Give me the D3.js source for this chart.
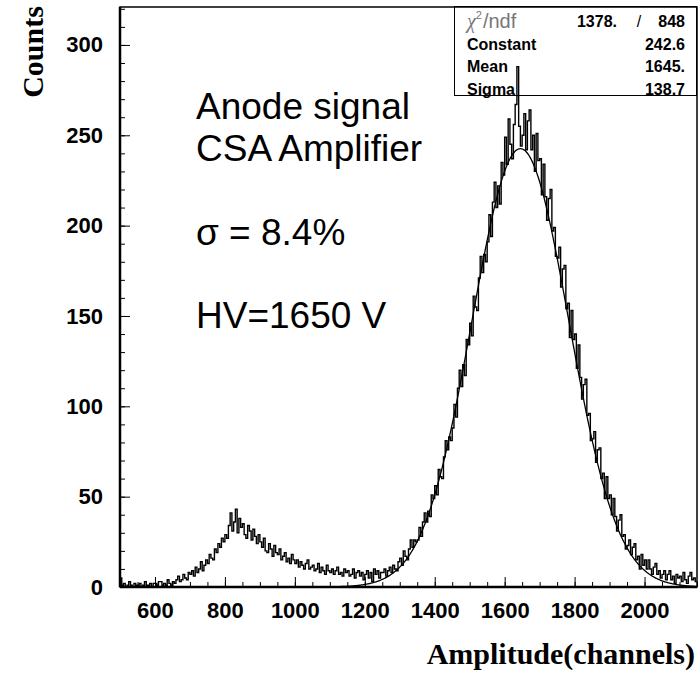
<!DOCTYPE html>
<html>
<head>
<meta charset="utf-8">
<script src="https://cdn.jsdelivr.net/npm/d3@7"></script>
<style>
  body { margin: 0; background: #fff; }
  svg { display: block; }
</style>
</head>
<body>
<svg id="chart" width="698" height="674"></svg>
<script>
// histogram: 5-channel bins starting at channel 500
const binStart = 500;
const binWidth = 5;
const counts = [
  5, 1, 2, 0, 1, 3, 1, 0, 2, 1,
  1, 2, 0, 1, 3, 1, 1, 2, 0, 2,
  2, 1, 3, 3, 1, 2, 1, 4, 2, 1,
  3, 2, 4, 6, 3, 4, 7, 5, 4, 8,
  7, 9, 6, 11, 8, 10, 14, 9, 12, 15,
  13, 18, 16, 15, 21, 19, 24, 22, 27, 25,
  29, 27, 34, 41, 31, 36, 43, 30, 38, 33,
  35, 29, 27, 34, 31, 26, 32, 28, 24, 29,
  25, 22, 27, 20, 19, 24, 21, 17, 23, 19,
  18, 21, 15, 17, 19, 14, 16, 13, 18, 15,
  13, 15, 11, 14, 12, 10, 13, 15, 10, 11,
  12, 9, 10, 13, 8, 11, 9, 7, 12, 9,
  8, 10, 7, 9, 11, 7, 8, 6, 10, 8,
  9, 6, 7, 10, 5, 8, 9, 6, 8, 4,
  7, 9, 5, 8, 3, 10, 7, 9, 5, 8,
  8, 10, 6, 9, 11, 8, 12, 10, 9, 14,
  16, 12, 20, 17, 15, 21, 26, 22, 26, 25,
  26, 33, 28, 36, 41, 36, 42, 39, 51, 49,
  56, 51, 65, 61, 60, 72, 81, 76, 83, 81,
  88, 101, 94, 110, 120, 111, 123, 117, 137, 134,
  146, 139, 161, 155, 153, 171, 183, 174, 184, 180,
  191, 206, 194, 213, 224, 210, 222, 212, 235, 228,
  249, 234, 259, 245, 237, 256, 267, 288, 255, 244,
  250, 262, 242, 258, 264, 242, 250, 230, 251, 236,
  237, 217, 234, 216, 203, 215, 220, 197, 199, 183,
  182, 188, 166, 176, 178, 154, 157, 138, 153, 137,
  140, 121, 134, 116, 104, 112, 115, 95, 96, 81,
  82, 86, 69, 76, 77, 60, 63, 49, 61, 49,
  51, 40, 49, 39, 31, 37, 40, 28, 29, 21,
  23, 26, 18, 22, 24, 15, 17, 10, 18, 12,
  15, 10, 15, 10, 7, 11, 13, 7, 9, 5,
  7, 9, 4, 7, 9, 4, 6, 2, 7, 5,
  6, 3, 8, 4, 2, 6, 8, 4, 5, 3
];

const xTicks = [600, 800, 1000, 1200, 1400, 1600, 1800, 2000];
const yTicks = [0, 50, 100, 150, 200, 250, 300];

// gaussian fit shown in the stats box
const fitConstant = 242.6;
const fitMean = 1645;
const fitSigma = 138.7;

const statNames = ["Constant", "Mean", "Sigma"];
const statValues = ["242.6", "1645.", "138.7"];
const chi2Value = "1378.";
const ndfValue = "848";

const noteLines = [
  { text: "Anode signal", y: 119 },
  { text: "CSA Amplifier", y: 161 },
  { text: "\u03c3 = 8.4%", y: 245 },
  { text: "HV=1650 V", y: 328 }
];

const svg = d3.select("#chart");
const plotLeft = 120, plotRight = 697, plotTop = 7, plotBottom = 587;

const x = d3.scaleLinear().domain([500, 2150]).range([plotLeft, plotRight]);
const y = d3.scaleLinear().domain([0, 321]).range([plotBottom, plotTop]);

// stats box (drawn first so the histogram runs over it)
const box = svg.append("g");
box.append("rect")
  .attr("x", 454.5)
  .attr("y", 6.5)
  .attr("width", 242)
  .attr("height", 89)
  .attr("fill", "none")
  .attr("stroke", "#000")
  .attr("stroke-width", 1);

const chiText = box.append("text")
  .attr("x", 467)
  .attr("y", 28)
  .attr("font-family", "Liberation Sans, Arial, sans-serif")
  .attr("font-size", 20)
  .attr("fill", "#777");
chiText.append("tspan").attr("font-style", "italic").attr("font-family", "Liberation Serif, serif").text("\u03c7");
chiText.append("tspan").attr("font-size", 11).attr("dy", -9).text("2");
chiText.append("tspan").attr("dy", 9).attr("dx", 1).text("/ndf");

const boldStyle = sel => sel
  .attr("font-family", "Liberation Sans, Arial, sans-serif")
  .attr("font-weight", "bold")
  .attr("font-size", 16)
  .attr("fill", "#000");

box.append("text").attr("x", 617).attr("y", 27).attr("text-anchor", "end").call(boldStyle).text(chi2Value);
box.append("text").attr("x", 639).attr("y", 27).attr("text-anchor", "middle").call(boldStyle).attr("font-weight", "normal").text("/");
box.append("text").attr("x", 685).attr("y", 27).attr("text-anchor", "end").call(boldStyle).text(ndfValue);

statNames.forEach((name, i) => {
  const by = 49.5 + i * 22.5;
  box.append("text").attr("x", 467).attr("y", by).call(boldStyle).text(name);
  box.append("text").attr("x", 685).attr("y", by).attr("text-anchor", "end").call(boldStyle).text(statValues[i]);
});

// histogram outline
const bins = counts.map((c, i) => ({ lo: binStart + i * binWidth, v: c }));
bins.push({ lo: binStart + counts.length * binWidth, v: counts[counts.length - 1] });

const histLine = d3.line()
  .x(d => x(d.lo))
  .y(d => y(d.v))
  .curve(d3.curveStepAfter);

svg.append("path")
  .datum(bins)
  .attr("fill", "none")
  .attr("stroke", "#000")
  .attr("stroke-width", 1.4)
  .attr("d", histLine);

// fit curve
const fitPts = d3.range(500, 2151, 2).map(c => ({
  c: c,
  v: fitConstant * Math.exp(-0.5 * Math.pow((c - fitMean) / fitSigma, 2))
}));

svg.append("path")
  .datum(fitPts)
  .attr("fill", "none")
  .attr("stroke", "#000")
  .attr("stroke-width", 1.3)
  .attr("d", d3.line().x(d => x(d.c)).y(d => y(d.v)).curve(d3.curveBasis));

// axes, ticks pointing inwards like ROOT
const tickFont = "Liberation Sans, Arial, sans-serif";

svg.append("g")
  .attr("transform", `translate(0,${plotBottom})`)
  .call(d3.axisBottom(x).tickValues(d3.range(500, 2151, 50)).tickSize(-5).tickFormat(""))
  .call(g => g.select(".domain").remove());

const xAxis = svg.append("g")
  .attr("transform", `translate(0,${plotBottom})`)
  .call(d3.axisBottom(x).tickValues(xTicks).tickSize(-10).tickPadding(15).tickFormat(d3.format("d")));
xAxis.select(".domain").remove();
xAxis.selectAll("text")
  .attr("font-family", tickFont)
  .attr("font-weight", "bold")
  .attr("font-size", 22)
  .attr("fill", "#000");

svg.append("g")
  .attr("transform", `translate(${plotLeft},0)`)
  .call(d3.axisLeft(y).tickValues(d3.range(0, 321, 10)).tickSize(-5).tickFormat(""))
  .call(g => g.select(".domain").remove());

const yAxis = svg.append("g")
  .attr("transform", `translate(${plotLeft},0)`)
  .call(d3.axisLeft(y).tickValues(yTicks).tickSize(-10).tickPadding(17).tickFormat(d3.format("d")));
yAxis.select(".domain").remove();
yAxis.selectAll("text")
  .attr("font-family", tickFont)
  .attr("font-weight", "bold")
  .attr("font-size", 22)
  .attr("fill", "#000");

// frame
svg.append("rect")
  .attr("x", plotLeft)
  .attr("y", plotTop)
  .attr("width", plotRight - plotLeft)
  .attr("height", plotBottom - plotTop)
  .attr("fill", "none")
  .attr("stroke", "#000")
  .attr("stroke-width", 1.5);

svg.append("line")
  .attr("x1", plotLeft).attr("x2", plotRight)
  .attr("y1", plotBottom).attr("y2", plotBottom)
  .attr("stroke", "#000").attr("stroke-width", 2.5);
svg.append("line")
  .attr("x1", plotLeft).attr("x2", plotLeft)
  .attr("y1", plotTop).attr("y2", plotBottom)
  .attr("stroke", "#000").attr("stroke-width", 2.5);

// axis titles
svg.append("text")
  .attr("transform", "translate(43,52) rotate(-90)")
  .attr("text-anchor", "middle")
  .attr("font-family", "Liberation Serif, Times New Roman, serif")
  .attr("font-weight", "bold")
  .attr("font-size", 30)
  .text("Counts");

svg.append("text")
  .attr("x", 695)
  .attr("y", 664)
  .attr("text-anchor", "end")
  .attr("font-family", "Liberation Serif, Times New Roman, serif")
  .attr("font-weight", "bold")
  .attr("font-size", 30)
  .text("Amplitude(channels)");

// annotation
svg.append("g")
  .selectAll("text")
  .data(noteLines)
  .join("text")
  .attr("x", 196)
  .attr("y", d => d.y)
  .attr("font-family", "Liberation Sans, Arial, sans-serif")
  .attr("font-size", 37)
  .attr("fill", "#000")
  .text(d => d.text);
</script>
</body>
</html>
